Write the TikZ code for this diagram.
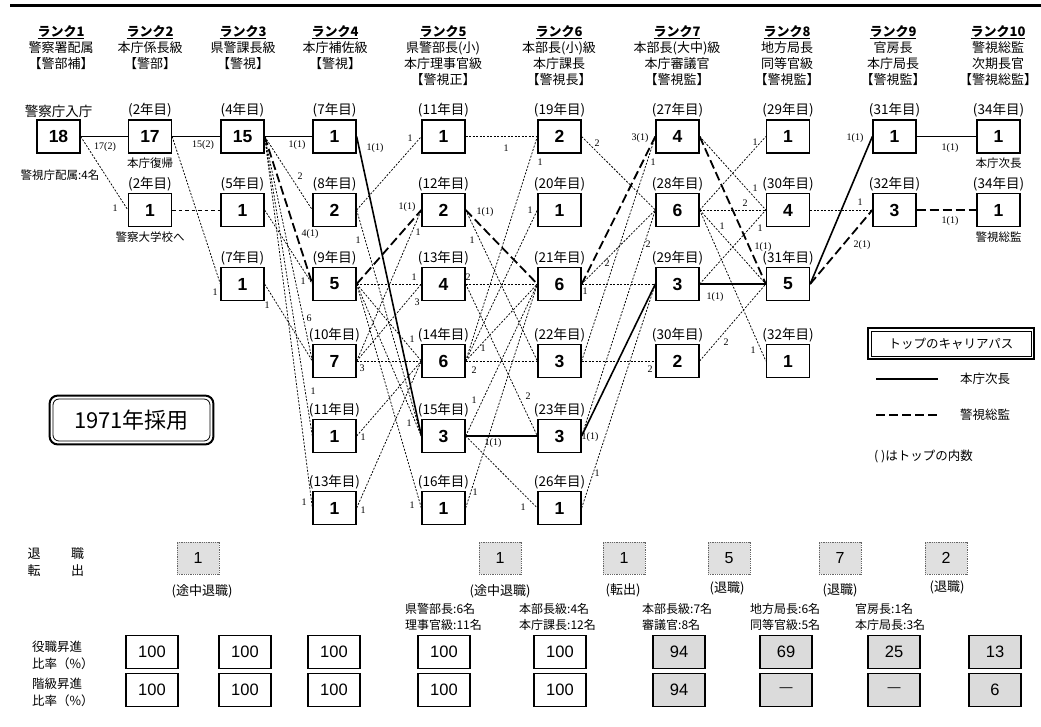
\documentclass[tikz,border=0pt]{standalone}
\usepackage{fontspec}
\setmainfont{Noto Sans CJK JP}
\newfontfamily\numf{Liberation Sans}
\newfontfamily\serf{Liberation Serif}
\begin{document}
\begin{tikzpicture}[x=1pt,y=-1pt,
  box/.style={draw,line width=1.3pt,minimum width=43pt,minimum height=33pt,inner sep=0pt,font=\numf\bfseries\fontsize{17.5}{17.5}\selectfont},
  yr/.style={inner sep=0pt,anchor=south,font=\fontsize{13.5}{14}\selectfont},
  sub/.style={inner sep=0pt,font=\fontsize{11.5}{12}\selectfont},
  hd/.style={inner sep=0pt,font=\fontsize{13}{16}\selectfont},
  lb/.style={inner sep=0pt,font=\serf\fontsize{10}{10}\selectfont},
  sol/.style={line width=1.6pt},
  dsh/.style={line width=1.8pt,dash pattern=on 9pt off 4pt},
  dot/.style={line width=0.75pt,dash pattern=on 2pt off 1.5pt},
  ret/.style={draw=black!60,densely dotted,line width=0.8pt,fill=black!12,minimum width=42pt,minimum height=32pt,inner sep=0pt,font=\numf\fontsize{16}{16}\selectfont},
  pc/.style={draw,line width=1.2pt,minimum width=52pt,minimum height=33pt,inner sep=0pt,font=\numf\fontsize{16.5}{16.5}\selectfont},
  pcg/.style={pc,fill=black!14},
  note/.style={inner sep=0pt,anchor=west,font=\fontsize{12}{13}\selectfont},
]
\useasboundingbox (0,0) rectangle (1041,726);
\draw[line width=3pt] (10,5) -- (1041,5);

% headers
\node[hd,anchor=north,align=center] (hdA) at (61,25) {\textbf{\underline{ランク1}}\\警察署配属\\【警部補】};
\node[hd,anchor=north,align=center] (hdB) at (150,25) {\textbf{\underline{ランク2}}\\本庁係長級\\【警部】};
\node[hd,anchor=north,align=center] (hdC) at (243,25) {\textbf{\underline{ランク3}}\\県警課長級\\【警視】};
\node[hd,anchor=north,align=center] (hdD) at (335,25) {\textbf{\underline{ランク4}}\\本庁補佐級\\【警視】};
\node[hd,anchor=north,align=center] (hdE) at (443,25) {\textbf{\underline{ランク5}}\\県警部長(小)\\本庁理事官級\\【警視正】};
\node[hd,anchor=north,align=center] (hdF) at (559,25) {\textbf{\underline{ランク6}}\\本部長(小)級\\本庁課長\\【警視長】};
\node[hd,anchor=north,align=center] (hdG) at (677,25) {\textbf{\underline{ランク7}}\\本部長(大中)級\\本庁審議官\\【警視監】};
\node[hd,anchor=north,align=center] (hdH) at (787,25) {\textbf{\underline{ランク8}}\\地方局長\\同等官級\\【警視監】};
\node[hd,anchor=north,align=center] (hdI) at (893,25) {\textbf{\underline{ランク9}}\\官房長\\本庁局長\\【警視監】};
\node[hd,anchor=north,align=center] (hdJ) at (998,25) {\textbf{\underline{ランク10}}\\警視総監\\次期長官\\【警視総監】};

% boxes
\node[box] (a1) at (58.5,136.5) {18};
\node[box] (b1) at (150,136.5) {17};
\node[box] (b2) at (150,210) {1};
\node[box] (c1) at (242.5,136.5) {15};
\node[box] (c2) at (242.5,210) {1};
\node[box] (c3) at (242.5,284) {1};
\node[box] (d1) at (334.5,136.5) {1};
\node[box] (d2) at (334.5,210) {2};
\node[box] (d3) at (334.5,284) {5};
\node[box] (d4) at (334.5,361) {7};
\node[box] (d5) at (334.5,436) {1};
\node[box] (d6) at (334.5,508) {1};
\node[box] (e1) at (443.5,136.5) {1};
\node[box] (e2) at (443.5,210) {2};
\node[box] (e3) at (443.5,284) {4};
\node[box] (e4) at (443.5,361) {6};
\node[box] (e5) at (443.5,436) {3};
\node[box] (e6) at (443.5,508) {1};
\node[box] (f1) at (559.5,136.5) {2};
\node[box] (f2) at (559.5,210) {1};
\node[box] (f3) at (559.5,284) {6};
\node[box] (f4) at (559.5,361) {3};
\node[box] (f5) at (559.5,436) {3};
\node[box] (f6) at (559.5,508) {1};
\node[box] (g1) at (677.5,136.5) {4};
\node[box] (g2) at (677.5,210) {6};
\node[box] (g3) at (677.5,284) {3};
\node[box] (g4) at (677.5,361) {2};
\node[box] (h1) at (788,136.5) {1};
\node[box] (h2) at (788,210) {4};
\node[box] (h3) at (788,284) {5};
\node[box] (h4) at (788,361) {1};
\node[box] (i1) at (894.5,136.5) {1};
\node[box] (i2) at (894.5,210) {3};
\node[box] (j1) at (998.5,136.5) {1};
\node[box] (j2) at (998.5,210) {1};

% year labels
\node[yr] (ya1) at ([yshift=2pt]a1.north) {警察庁入庁};
\node[yr] (yb1) at ([yshift=2pt]b1.north) {(2年目)};
\node[yr] (yb2) at ([yshift=2pt]b2.north) {(2年目)};
\node[yr] (yc1) at ([yshift=2pt]c1.north) {(4年目)};
\node[yr] (yc2) at ([yshift=2pt]c2.north) {(5年目)};
\node[yr] (yc3) at ([yshift=2pt]c3.north) {(7年目)};
\node[yr] (yd1) at ([yshift=2pt]d1.north) {(7年目)};
\node[yr] (yd2) at ([yshift=2pt]d2.north) {(8年目)};
\node[yr] (yd3) at ([yshift=2pt]d3.north) {(9年目)};
\node[yr] (yd4) at ([yshift=2pt]d4.north) {(10年目)};
\node[yr] (yd5) at ([yshift=2pt]d5.north) {(11年目)};
\node[yr] (yd6) at ([yshift=2pt]d6.north) {(13年目)};
\node[yr] (ye1) at ([yshift=2pt]e1.north) {(11年目)};
\node[yr] (ye2) at ([yshift=2pt]e2.north) {(12年目)};
\node[yr] (ye3) at ([yshift=2pt]e3.north) {(13年目)};
\node[yr] (ye4) at ([yshift=2pt]e4.north) {(14年目)};
\node[yr] (ye5) at ([yshift=2pt]e5.north) {(15年目)};
\node[yr] (ye6) at ([yshift=2pt]e6.north) {(16年目)};
\node[yr] (yf1) at ([yshift=2pt]f1.north) {(19年目)};
\node[yr] (yf2) at ([yshift=2pt]f2.north) {(20年目)};
\node[yr] (yf3) at ([yshift=2pt]f3.north) {(21年目)};
\node[yr] (yf4) at ([yshift=2pt]f4.north) {(22年目)};
\node[yr] (yf5) at ([yshift=2pt]f5.north) {(23年目)};
\node[yr] (yf6) at ([yshift=2pt]f6.north) {(26年目)};
\node[yr] (yg1) at ([yshift=2pt]g1.north) {(27年目)};
\node[yr] (yg2) at ([yshift=2pt]g2.north) {(28年目)};
\node[yr] (yg3) at ([yshift=2pt]g3.north) {(29年目)};
\node[yr] (yg4) at ([yshift=2pt]g4.north) {(30年目)};
\node[yr] (yh1) at ([yshift=2pt]h1.north) {(29年目)};
\node[yr] (yh2) at ([yshift=2pt]h2.north) {(30年目)};
\node[yr] (yh3) at ([yshift=2pt]h3.north) {(31年目)};
\node[yr] (yh4) at ([yshift=2pt]h4.north) {(32年目)};
\node[yr] (yi1) at ([yshift=2pt]i1.north) {(31年目)};
\node[yr] (yi2) at ([yshift=2pt]i2.north) {(32年目)};
\node[yr] (yj1) at ([yshift=2pt]j1.north) {(34年目)};
\node[yr] (yj2) at ([yshift=2pt]j2.north) {(34年目)};

\node[sub] (sb1) at (150,163) {本庁復帰};
\node[sub] (sb2) at (150,237) {警察大学校へ};
\node[sub] (sj1) at (998.5,163) {本庁次長};
\node[sub] (sj2) at (998.5,237) {警視総監};
\node[sub] (sa1) at (60,175) {警視庁配属:4名};

% edges rank1-2
\draw[sol] (a1.east) -- (b1.west);
\draw[dot] (a1.east) -- (b2.west);
% rank2-3
\draw[sol] (b1.east) -- (c1.west);
\draw[line width=0.8pt,dash pattern=on 3.5pt off 3pt] (b2.east) -- (c2.west);
\draw[dot] (b1.east) -- (c3.west);
% rank3-4
\draw[sol] (c1.east) -- (d1.west);
\draw[dot] (c1.east) -- (d2.west);
\draw[dsh] (c1.east) -- (d3.west);
\draw[dot] (c1.east) -- (d4.west);
\draw[dot] (c1.east) -- (d5.west);
\draw[dot] (c1.east) -- (d6.west);
\draw[dot] (c2.east) -- (d3.west);
\draw[dot] (c3.east) -- (d4.west);
% rank4-5
\draw[sol] (d1.east) -- (e5.west);
\draw[dot] (d2.east) -- (e1.west);
\draw[dot] (d2.east) -- (e5.west);
\draw[dsh] (d3.east) -- (e2.west);
\draw[dot] (d3.east) -- (e3.west);
\draw[dot] (d3.east) -- (e4.west);
\draw[dot] (d3.east) -- (e5.west);
\draw[dot] (d3.east) -- (e6.west);
\draw[dot] (d4.east) -- (e2.west);
\draw[dot] (d4.east) -- (e3.west);
\draw[dot] (d4.east) -- (e4.west);
\draw[dot] (d5.east) -- (e4.west);
\draw[dot] (d6.east) -- (e4.west);
% rank5-6
\draw[dot] (e1.east) -- (f1.west);
\draw[dsh] (e2.east) -- (f3.west);
\draw[dot] (e2.east) -- (f4.west);
\draw[dot] (e3.east) -- (f3.west);
\draw[dot] (e3.east) -- (f5.west);
\draw[dot] (e4.east) -- (f4.west);
\draw[dot] (e4.east) -- (f3.west);
\draw[dot] (e4.east) -- (f1.west);
\draw[dot] (e4.east) -- (f2.west);
\draw[sol] (e5.east) -- (f5.west);
\draw[dot] (e5.east) -- (f3.west);
\draw[dot] (e5.east) -- (f6.west);
\draw[dot] (e6.east) -- (f3.west);
% rank6-7
\draw[dot] (f1.east) -- (g2.west);
\draw[dsh] (f3.east) -- (g1.west);
\draw[dot] (f3.east) -- (g2.west);
\draw[dot] (f3.east) -- (g3.west);
\draw[dot] (f4.east) -- (g1.west);
\draw[dot] (f4.east) -- (g4.west);
\draw[sol] (f5.east) -- (g3.west);
\draw[dot] (f5.east) -- (g2.west);
\draw[dot] (f6.east) -- (g3.west);
% rank7-8
\draw[dsh] (g1.east) -- (h3.west);
\draw[dot] (g1.east) -- (h2.west);
\draw[dot] (g2.east) -- (h1.west);
\draw[dot] (g2.east) -- (h2.west);
\draw[dot] (g2.east) -- (h3.west);
\draw[dot] (g2.east) -- (h4.west);
\draw[dot] (g3.east) -- (h2.west);
\draw[sol] (g3.east) -- (h3.west);
\draw[dot] (g4.east) -- (h3.west);
% rank8-9
\draw[sol] (h3.east) -- (i1.west);
\draw[dsh] (h3.east) -- (i2.west);
\draw[dot] (h2.east) -- (i2.west);
% rank9-10
\draw[sol] (i1.east) -- (j1.west);
\draw[dsh] (i2.east) -- (j2.west);

% edge labels
\node[lb] (t01) at (105,147) {17(2)};
\node[lb] (t02) at (115,208) {1};
\node[lb] (t03) at (203,145) {15(2)};
\node[lb] (t04) at (215,292) {1};
\node[lb] (t05) at (297,145) {1(1)};
\node[lb] (t06) at (300,176) {2};
\node[lb] (t07) at (310,234) {4(1)};
\node[lb] (t08) at (309,318) {6};
\node[lb] (t09) at (313,391) {1};
\node[lb] (t10) at (304,502) {1};
\node[lb] (t11) at (303,281) {1};
\node[lb] (t12) at (267,305) {1};
\node[lb] (t13) at (375,148) {1(1)};
\node[lb] (t14) at (410,138) {1};
\node[lb] (t15) at (358,240) {1};
\node[lb] (t16) at (407,207) {1(1)};
\node[lb] (t17) at (414,277) {1};
\node[lb] (t18) at (412,339) {1};
\node[lb] (t19) at (409,423) {1};
\node[lb] (t20) at (412,505) {1};
\node[lb] (t21) at (418,232) {1};
\node[lb] (t22) at (417,302) {3};
\node[lb] (t23) at (362,368) {3};
\node[lb] (t24) at (363,437) {1};
\node[lb] (t25) at (363,510) {1};
\node[lb] (t26) at (506,148) {1};
\node[lb] (t27) at (485,212) {1(1)};
\node[lb] (t28) at (472,240) {1};
\node[lb] (t29) at (468,277) {2};
\node[lb] (t30) at (528,396) {2};
\node[lb] (t31) at (474,370) {2};
\node[lb] (t32) at (483,348) {1};
\node[lb] (t33) at (540,162) {1};
\node[lb] (t34) at (530,210) {1};
\node[lb] (t35) at (493,443) {1(1)};
\node[lb] (t36) at (474,400) {1};
\node[lb] (t37) at (523,507) {1};
\node[lb] (t38) at (475,492) {1};
\node[lb] (t39) at (597,143) {2};
\node[lb] (t40) at (640,138) {3(1)};
\node[lb] (t41) at (607,263) {2};
\node[lb] (t42) at (585,291) {1};
\node[lb] (t43) at (653,162) {1};
\node[lb] (t44) at (650,369) {2};
\node[lb] (t45) at (590,437) {1(1)};
\node[lb] (t46) at (648,244) {2};
\node[lb] (t47) at (597,473) {1};
\node[lb] (t48) at (763,247) {1(1)};
\node[lb] (t49) at (755,188) {1};
\node[lb] (t50) at (755,142) {1};
\node[lb] (t51) at (745,203) {2};
\node[lb] (t52) at (722,226) {1};
\node[lb] (t53) at (753,350) {1};
\node[lb] (t54) at (760,228) {1};
\node[lb] (t55) at (715,297) {1(1)};
\node[lb] (t56) at (726,342) {2};
\node[lb] (t57) at (855,138) {1(1)};
\node[lb] (t58) at (862,245) {2(1)};
\node[lb] (t59) at (860,202) {1};
\node[lb] (t60) at (950,148) {1(1)};
\node[lb] (t61) at (950,221) {1(1)};

% 1971 box
\node[draw,line width=0.8pt,rounded corners=6pt,minimum width=157pt,minimum height=42pt,inner sep=0pt,font=\fontsize{22}{22}\selectfont] (yr71) at (131.5,420) {1971年採用};
\draw[line width=2pt,rounded corners=8pt] ([shift={(-3pt,-3pt)}]yr71.south west) rectangle ([shift={(3pt,3pt)}]yr71.north east);

% legend
\node[draw,line width=0.7pt,minimum width=160pt,minimum height=25pt,inner sep=0pt,font=\fontsize{12.5}{13}\selectfont] (leg) at (951,343.5) {トップのキャリアパス};
\draw[line width=1.8pt] ([shift={(-2.5pt,-2.5pt)}]leg.south west) rectangle ([shift={(2.5pt,2.5pt)}]leg.north east);
\coordinate (ls1) at (876,379);
\coordinate (ls2) at (938,379);
\coordinate (ld1) at (876,415);
\coordinate (ld2) at (938,415);
\draw[sol] (ls1) -- (ls2);
\draw[dsh] (ld1) -- (ld2);
\node[note,font=\fontsize{12.5}{13}\selectfont] (lt1) at (960,379) {本庁次長};
\node[note,font=\fontsize{12.5}{13}\selectfont] (lt2) at (960,415) {警視総監};
\node[note,font=\fontsize{12.5}{13}\selectfont] (lt3) at (874,456) {( )はトップの内数};

% retirement row
\node[hd] (k1) at (34,554) {退};
\node[hd] (k2) at (77.5,554) {職};
\node[hd] (k3) at (34,571) {転};
\node[hd] (k4) at (77.5,571) {出};
\node[ret] (rt1) at (198,558) {1};
\node[ret] (rt2) at (500,558) {1};
\node[ret] (rt3) at (624,558) {1};
\node[ret] (rt4) at (729,558) {5};
\node[ret] (rt5) at (840,558) {7};
\node[ret] (rt6) at (946,558) {2};
\node[hd] (rl1) at (202,591) {(途中退職)};
\node[hd] (rl2) at (500,591) {(途中退職)};
\node[hd] (rl3) at (623,590) {(転出)};
\node[hd] (rl4) at (727,588) {(退職)};
\node[hd] (rl5) at (840,590) {(退職)};
\node[hd] (rl6) at (947,587) {(退職)};

% notes
\node[note] (n1a) at (405,609) {県警部長:6名};
\node[note] (n1b) at (405,625) {理事官級:11名};
\node[note] (n2a) at (519,609) {本部長級:4名};
\node[note] (n2b) at (519,625) {本庁課長:12名};
\node[note] (n3a) at (642,609) {本部長級:7名};
\node[note] (n3b) at (642,625) {審議官:8名};
\node[note] (n4a) at (750,609) {地方局長:6名};
\node[note] (n4b) at (750,625) {同等官級:5名};
\node[note] (n5a) at (855,609) {官房長:1名};
\node[note] (n5b) at (855,625) {本庁局長:3名};

% percentage rows
\node[note,font=\fontsize{12.5}{13}\selectfont] (p1a) at (32,647) {役職昇進};
\node[note,font=\fontsize{12.5}{13}\selectfont] (p1b) at (32,664) {比率（\%）};
\node[note,font=\fontsize{12.5}{13}\selectfont] (p2a) at (32,684) {階級昇進};
\node[note,font=\fontsize{12.5}{13}\selectfont] (p2b) at (32,701) {比率（\%）};

\node[pc] (q11) at (152,652) {100};
\node[pc] (q12) at (245,652) {100};
\node[pc] (q13) at (334,652) {100};
\node[pc] (q14) at (444,652) {100};
\node[pc] (q15) at (560,652) {100};
\node[pcg] (q16) at (679,652) {94};
\node[pcg] (q17) at (786,652) {69};
\node[pcg] (q18) at (894,652) {25};
\node[pcg] (q19) at (995,652) {13};
\node[pc] (q21) at (152,690) {100};
\node[pc] (q22) at (245,690) {100};
\node[pc] (q23) at (334,690) {100};
\node[pc] (q24) at (444,690) {100};
\node[pc] (q25) at (560,690) {100};
\node[pcg] (q26) at (679,690) {94};
\node[pcg,font=\numf\fontsize{13}{13}\selectfont] (q27) at (786,690) {—};
\node[pcg,font=\numf\fontsize{13}{13}\selectfont] (q28) at (894,690) {—};
\node[pcg] (q29) at (995,690) {6};
\end{tikzpicture}
\end{document}
